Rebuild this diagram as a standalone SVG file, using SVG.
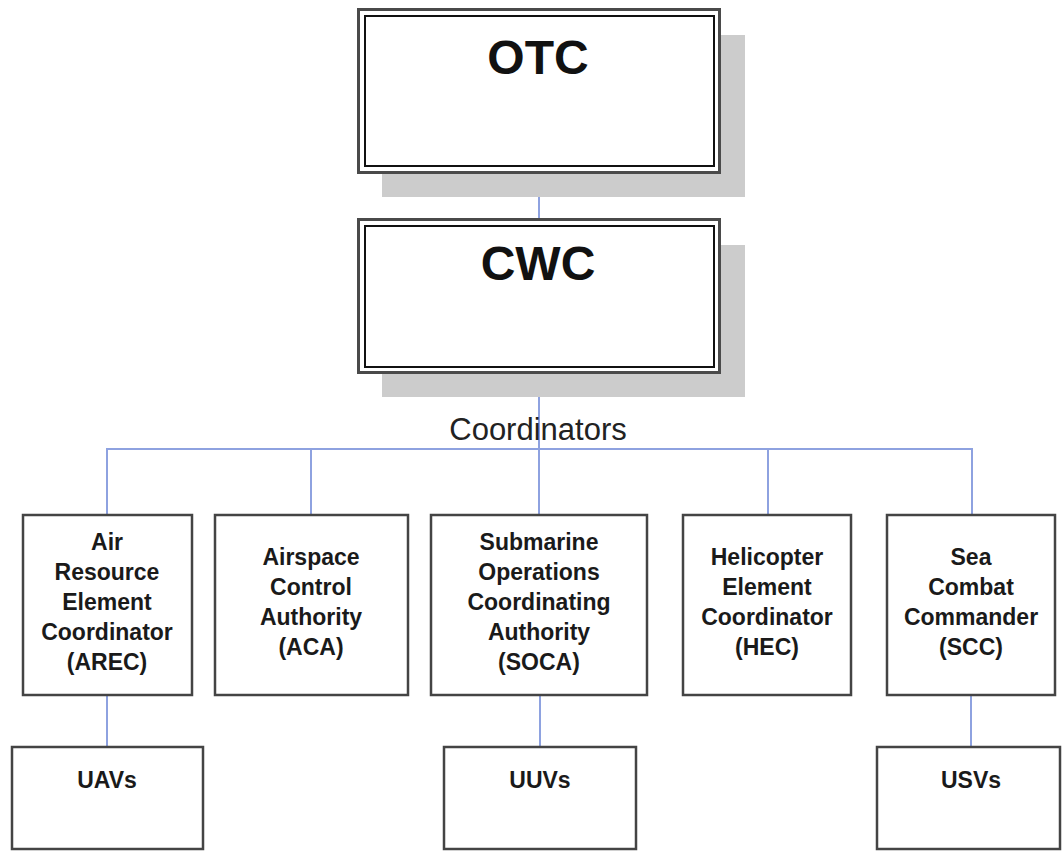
<svg xmlns="http://www.w3.org/2000/svg" width="1063" height="851" viewBox="0 0 1063 851">
  <style>
    .shadow { fill: #cccccc; stroke: none; }
    .outer { fill: #ffffff; stroke: #4a4a4a; stroke-width: 3; }
    .inner { fill: none; stroke: #111111; stroke-width: 2; }
    .box { fill: #ffffff; stroke: #444444; stroke-width: 2.5; }
    .conn { fill: none; stroke: #8ea2e0; stroke-width: 2; }
    .title { font-family: "Liberation Sans", Arial, sans-serif; font-weight: bold; font-size: 48px; fill: #111111; text-anchor: middle; }
    .label { font-family: "Liberation Sans", Arial, sans-serif; font-weight: bold; font-size: 23px; fill: #1a1a1a; text-anchor: middle; }
    .caption { font-family: "Liberation Sans", Arial, sans-serif; font-size: 31px; fill: #222222; text-anchor: middle; }
  </style>
  <rect width="1063" height="851" fill="#ffffff"/>

  <!-- connectors -->
  <g id="connectors">
    <line class="conn" x1="539" y1="173" x2="539" y2="219"/>
    <line class="conn" x1="539" y1="373" x2="539" y2="515" stroke="#6f93d8"/>
    <polyline class="conn" points="107,515 107,449 972,449 972,515"/>
    <line class="conn" x1="311" y1="449" x2="311" y2="515"/>
    <line class="conn" x1="768" y1="449" x2="768" y2="515"/>
    <line class="conn" x1="107" y1="695" x2="107" y2="747"/>
    <line class="conn" x1="540" y1="695" x2="540" y2="747"/>
    <line class="conn" x1="971" y1="695" x2="971" y2="747"/>
  </g>

  <text class="caption" x="538" y="440">Coordinators</text>

  <g id="otc">
    <rect class="shadow" x="382" y="35" width="363" height="162"/>
    <rect class="outer" x="358.5" y="9.5" width="361" height="163"/>
    <rect class="inner" x="365" y="16" width="349" height="150"/>
    <text class="title" x="538" y="74">OTC</text>
  </g>

  <g id="cwc">
    <rect class="shadow" x="382" y="245" width="363" height="152"/>
    <rect class="outer" x="358.5" y="219.5" width="361" height="153"/>
    <rect class="inner" x="365" y="226" width="349" height="141"/>
    <text class="title" x="538" y="280">CWC</text>
  </g>

  <g id="arec">
    <rect class="box" x="23" y="515" width="169" height="180"/>
    <text class="label" x="107" y="550">Air</text>
    <text class="label" x="107" y="580">Resource</text>
    <text class="label" x="107" y="610">Element</text>
    <text class="label" x="107" y="640">Coordinator</text>
    <text class="label" x="107" y="670">(AREC)</text>
  </g>

  <g id="aca">
    <rect class="box" x="215" y="515" width="193" height="180"/>
    <text class="label" x="311" y="565">Airspace</text>
    <text class="label" x="311" y="595">Control</text>
    <text class="label" x="311" y="625">Authority</text>
    <text class="label" x="311" y="655">(ACA)</text>
  </g>

  <g id="soca">
    <rect class="box" x="431" y="515" width="216" height="180"/>
    <text class="label" x="539" y="550">Submarine</text>
    <text class="label" x="539" y="580">Operations</text>
    <text class="label" x="539" y="610">Coordinating</text>
    <text class="label" x="539" y="640">Authority</text>
    <text class="label" x="539" y="670">(SOCA)</text>
  </g>

  <g id="hec">
    <rect class="box" x="683" y="515" width="168" height="180"/>
    <text class="label" x="767" y="565">Helicopter</text>
    <text class="label" x="767" y="595">Element</text>
    <text class="label" x="767" y="625">Coordinator</text>
    <text class="label" x="767" y="655">(HEC)</text>
  </g>

  <g id="scc">
    <rect class="box" x="887" y="515" width="168" height="180"/>
    <text class="label" x="971" y="565">Sea</text>
    <text class="label" x="971" y="595">Combat</text>
    <text class="label" x="971" y="625">Commander</text>
    <text class="label" x="971" y="655">(SCC)</text>
  </g>

  <g id="uavs">
    <rect class="box" x="12" y="747" width="191" height="102"/>
    <text class="label" x="107" y="788">UAVs</text>
  </g>

  <g id="uuvs">
    <rect class="box" x="444" y="747" width="192" height="102"/>
    <text class="label" x="540" y="788">UUVs</text>
  </g>

  <g id="usvs">
    <rect class="box" x="877" y="747" width="183" height="102"/>
    <text class="label" x="971" y="788">USVs</text>
  </g>
</svg>
